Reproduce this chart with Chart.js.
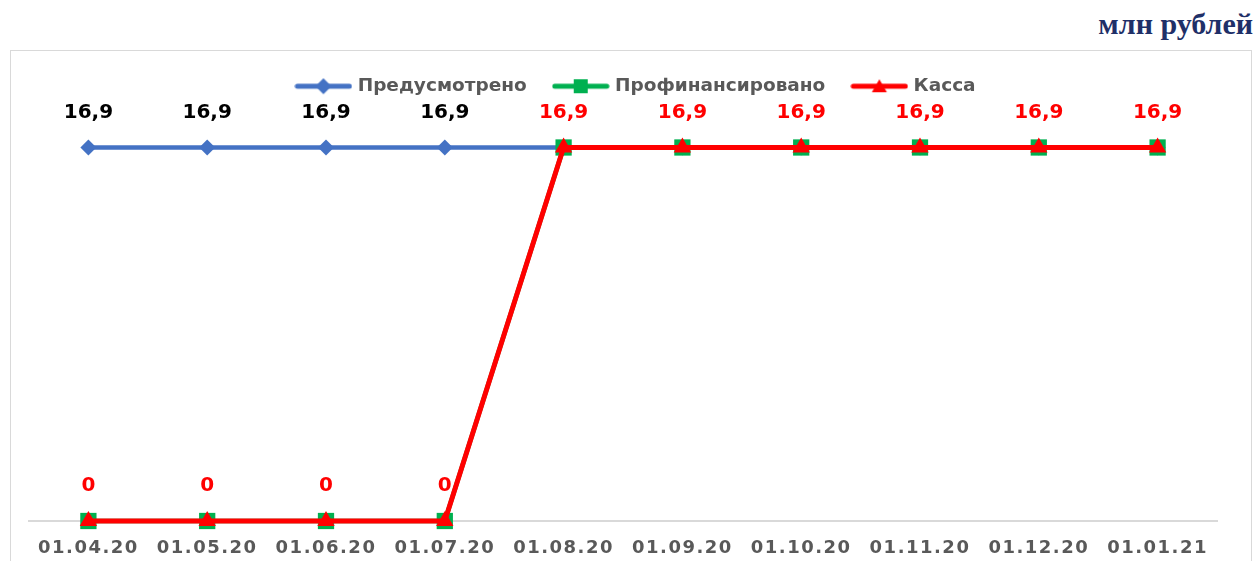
<!DOCTYPE html>
<html>
<head>
<meta charset="utf-8">
<script src="https://cdn.jsdelivr.net/npm/chart.js@4"></script>
<style>
  body { margin: 0; background: #fff; width: 1258px; height: 561px; overflow: hidden; position: relative; }
  #frame { position: absolute; left: 10px; top: 50px; width: 1242px; height: 600px; border: 1px solid #d9d9d9; box-sizing: border-box; }
  #units { position: absolute; right: 5px; top: 7px; font: bold 30px "Liberation Serif", serif; color: #1F3068; }
  #wrap { position: absolute; left: 0; top: 0; width: 1258px; height: 561px; }
</style>
</head>
<body>
<div id="frame"></div>
<div id="units">млн рублей</div>
<div id="wrap"><canvas id="chart"></canvas></div>
<script>
// data
const dates = ["01.04.20", "01.05.20", "01.06.20", "01.07.20", "01.08.20", "01.09.20", "01.10.20", "01.11.20", "01.12.20", "01.01.21"];
const planned = [16.9, 16.9, 16.9, 16.9, 16.9, 16.9, 16.9, 16.9, 16.9, 16.9];
const financed = [0, 0, 0, 0, 16.9, 16.9, 16.9, 16.9, 16.9, 16.9];
const cash = [0, 0, 0, 0, 16.9, 16.9, 16.9, 16.9, 16.9, 16.9];
const seriesNames = ["Предусмотрено", "Профинансировано", "Касса"];

const BLUE = "#4472C4", GREEN = "#00B050", RED = "#FF0000";

// wider letter spacing on the category axis labels
const CategoryScale = Chart.registry.getScale("category");
const origDrawLabels = CategoryScale.prototype.drawLabels;
CategoryScale.prototype.drawLabels = function (area) {
    this.ctx.save();
    this.ctx.letterSpacing = "1.5px";
    origDrawLabels.call(this, area);
    this.ctx.restore();
};

// legend symbol: line with marker in the middle
function legendIcon(color, marker) {
    const c = document.createElement("canvas");
    c.width = 58; c.height = 18;
    const g = c.getContext("2d");
    g.strokeStyle = color; g.lineWidth = 5; g.lineCap = "round";
    g.beginPath(); g.moveTo(3, 9); g.lineTo(55, 9); g.stroke();
    g.fillStyle = color;
    g.beginPath();
    if (marker === "diamond") {
        g.moveTo(29, 1); g.lineTo(37, 9); g.lineTo(29, 17); g.lineTo(21, 9);
    } else if (marker === "square") {
        g.rect(22, 2, 14, 14);
    } else {
        g.moveTo(29, 2); g.lineTo(36.5, 15); g.lineTo(21.5, 15);
    }
    g.closePath(); g.fill();
    return c;
}
const icons = [legendIcon(BLUE, "diamond"), legendIcon(GREEN, "square"), legendIcon(RED, "triangle")];

const fmt = v => String(v).replace(".", ",");

const valueLabels = {
    id: "valueLabels",
    afterLayout(chart) {
        // legend sits a bit right of centre in the original
        chart.legend.left += 14;
        chart.legend.right += 14;
    },
    afterDatasetsDraw(chart) {
        const ctx = chart.ctx;
        ctx.save();
        ctx.font = "bold 20px 'DejaVu Sans'";
        ctx.textAlign = "center";
        ctx.textBaseline = "middle";
        chart.getDatasetMeta(0).data.forEach((pt, i) => {
            if (planned[i] === cash[i]) return; // covered by the Касса label
            ctx.fillStyle = "#000000";
            ctx.fillText(fmt(planned[i]), pt.x, pt.y - 35);
        });
        chart.getDatasetMeta(2).data.forEach((pt, i) => {
            ctx.fillStyle = RED;
            ctx.fillText(fmt(cash[i]), pt.x, pt.y - 35);
        });
        ctx.restore();
    }
};

new Chart(document.getElementById("chart"), {
    type: "line",
    data: {
        labels: dates,
        datasets: [
            {
                label: seriesNames[0],
                data: planned,
                borderColor: BLUE,
                backgroundColor: BLUE,
                borderWidth: 4.5,
                pointStyle: "rectRot",
                pointRadius: 8,
                pointBorderWidth: 0,
                clip: false,
                order: 3
            },
            {
                label: seriesNames[1],
                data: financed,
                borderColor: GREEN,
                backgroundColor: GREEN,
                borderWidth: 4.5,
                pointStyle: "rect",
                pointRadius: 11.5,
                pointBorderWidth: 0,
                clip: false,
                order: 2
            },
            {
                label: seriesNames[2],
                data: cash,
                borderColor: RED,
                backgroundColor: RED,
                borderWidth: 5,
                pointStyle: "triangle",
                pointRadius: 10,
                pointBorderWidth: 0,
                clip: false,
                order: 1
            }
        ]
    },
    options: {
        responsive: true,
        maintainAspectRatio: false,
        animation: false,
        layout: { padding: { left: 29, right: 41, top: 48, bottom: 0 } },
        plugins: {
            tooltip: { enabled: false },
            legend: {
                position: "top",
                labels: {
                    usePointStyle: true,
                    pointStyleWidth: 50,
                    padding: 29,
                    color: "#595959",
                    font: { family: "'DejaVu Sans'", size: 18.5, weight: "bold" },
                    generateLabels: () => seriesNames.map((name, i) => ({
                        text: name,
                        pointStyle: icons[i],
                        fillStyle: "transparent",
                        strokeStyle: "transparent",
                        lineWidth: 0,
                        hidden: false,
                        datasetIndex: i,
                        fontColor: "#595959"
                    }))
                }
            }
        },
        scales: {
            x: {
                offset: true,
                grid: { display: false, drawTicks: false },
                border: { display: true, color: "#d9d9d9", width: 2 },
                ticks: {
                    color: "#595959",
                    padding: 17,
                    maxRotation: 0,
                    autoSkip: false,
                    font: { family: "'DejaVu Sans'", size: 18, weight: "bold" }
                },
                afterFit: scale => { scale.height = 40; }
            },
            y: {
                display: false,
                min: 0,
                max: 18.8
            }
        }
    },
    plugins: [valueLabels]
});
</script>
</body>
</html>
